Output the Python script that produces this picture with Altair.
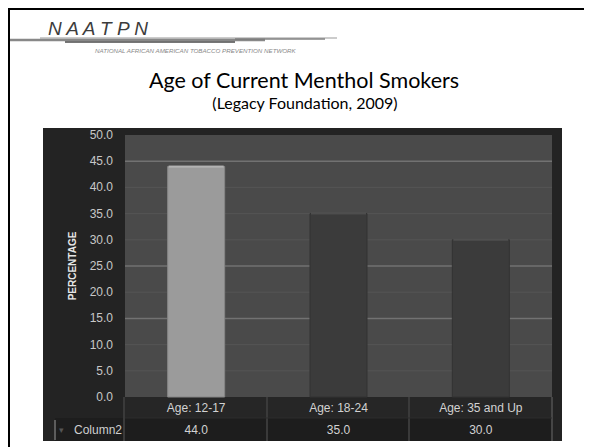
import altair as alt
import pandas as pd

# ---- data ----
categories = ["Age: 12-17", "Age: 18-24", "Age: 35 and Up"]
values = [44.0, 35.0, 30.0]
bar_colors = ["#9b9b9b", "#3b3b3b", "#3b3b3b"]
top_colors = ["#c8c8c8", "#5a5a5a", "#5a5a5a"]
edge_colors = ["#858585", "#333333", "#333333"]
y_ticks = [0, 5, 10, 15, 20, 25, 30, 35, 40, 45, 50]
y_tick_labels = ["0.0", "5.0", "10.0", "15.0", "20.0", "25.0", "30.0", "35.0",
                 "40.0", "45.0", "50.0"]
grid_bright = [15, 25, 45]
grid_faint = [5, 10, 20, 30, 35, 40]
value_labels = ["44.0", "35.0", "30.0"]

title_text = "Age of Current Menthol Smokers"
subtitle_text = "(Legacy Foundation, 2009)"
logo_text = "N A A T P N"
logo_sub = "NATIONAL AFRICAN AMERICAN TOBACCO PREVENTION NETWORK"
row_label = "Column2"
y_title = "PERCENTAGE"

W, H = 427, 262

bars_df = pd.DataFrame({"cat": categories, "v": values, "color": bar_colors,
                        "top": top_colors, "edge": edge_colors, "lab": value_labels})
ticks_df = pd.DataFrame({"t": y_ticks, "lab": y_tick_labels})
gb_df = pd.DataFrame({"g": grid_bright})
gf_df = pd.DataFrame({"g": grid_faint})
one = pd.DataFrame({"a": [0]})

xsc = alt.Scale(domain=categories, paddingInner=0, paddingOuter=0)
ysc = alt.Scale(domain=[0, 50], nice=False, zero=True)
XF = dict(scale=xsc, sort=categories, axis=None)
YF = dict(scale=ysc, axis=None)


def box(x, x2, y, y2, color):
    return alt.Chart(one).mark_rect(color=color).encode(
        x=alt.value(x), x2=alt.value(x2), y=alt.value(y), y2=alt.value(y2))


def rule(x, x2, y, y2, color, w, op=1.0):
    return alt.Chart(one).mark_rule(color=color, strokeWidth=w, opacity=op).encode(
        x=alt.value(x), x2=alt.value(x2), y=alt.value(y), y2=alt.value(y2))


def txt(t, x, y, size, color, font="Liberation Sans", align="center",
        baseline="alphabetic", weight="normal", style="normal", angle=0):
    return alt.Chart(one).mark_text(
        text=t, fontSize=size, color=color, font=font, align=align,
        baseline=baseline, fontWeight=weight, fontStyle=style, angle=angle
    ).encode(x=alt.value(x), y=alt.value(y))


# slide border
border_top = box(-117, 459, -127, -125, "#000000")
border_left = box(-117, -115, -127, 312, "#000000")

# dark panel & plot background
panel = box(-82, 437, -7, 306, "#232323")
plot_bg = box(0, W, 0, H, "#4a4a4a")
row1 = box(0, W, H, 283, "#262626")
row2 = box(-70, W, 283, 306, "#1d1d1d")

dividers = alt.layer(
    rule(-1, -1, H, 306, "#3a3a3a", 2),
    rule(142, 142, H, 306, "#3a3a3a", 2),
    rule(284, 284, H, 306, "#3a3a3a", 2),
    rule(427, 427, H, 306, "#464646", 2),
    rule(0, W, 283, 283, "#2c2c2c", 1),
    rule(-70, -70, 285, 305, "#5c5c5c", 2),
)

grid_f = alt.Chart(gf_df).mark_rule(color="#545454", strokeWidth=1).encode(
    y=alt.Y("g:Q", **YF), x=alt.value(0), x2=alt.value(W))
grid_b = alt.Chart(gb_df).mark_rule(color="#727272", strokeWidth=1.5).encode(
    y=alt.Y("g:Q", **YF), x=alt.value(0), x2=alt.value(W))

bars = alt.Chart(bars_df).mark_bar(size=57, strokeWidth=1).encode(
    x=alt.X("cat:N", **XF),
    y=alt.Y("v:Q", **YF),
    color=alt.Color("color:N", scale=None),
    stroke=alt.Stroke("edge:N", scale=None),
)

tops = alt.Chart(bars_df).mark_tick(size=55, thickness=2).encode(
    x=alt.X("cat:N", **XF),
    y=alt.Y("v:Q", **YF),
    color=alt.Color("top:N", scale=None),
)

# y tick labels (through the y scale)
y_labels = alt.Chart(ticks_df).mark_text(
    fontSize=12, font="Liberation Sans", color="#c8c8c8", align="right",
    baseline="middle"
).encode(y=alt.Y("t:Q", **YF), x=alt.value(-12), text="lab:N")

# category labels (through the x scale)
x_labels = alt.Chart(bars_df).mark_text(
    fontSize=12, font="Liberation Sans", color="#d2d2d2", baseline="middle"
).encode(x=alt.X("cat:N", **XF), y=alt.value(273), text="cat:N")

val_text = alt.Chart(bars_df).mark_text(
    fontSize=12, font="Liberation Sans", color="#d2d2d2", baseline="middle"
).encode(x=alt.X("cat:N", **XF), y=alt.value(295), text="lab:N")

# logo
logo = alt.layer(
    rule(-85, 212, -97, -97, "#9a9a9a", 1.2),
    rule(-115, 140, -95, -95, "#6a6a6a", 2.5, 0.8),
    rule(-60, 110, -93, -93, "#555555", 2, 0.8),
    rule(110, 200, -96, -96, "#7a7a7a", 2, 0.7),
    txt(logo_text, -77, -100, 19, "#3c3c3c", align="left", style="italic"),
    txt(logo_sub, -30, -82, 6.2, "#888888", align="left", style="italic"),
)

titles = alt.layer(
    txt(title_text, 179, -47, 21.5, "#000000", font="Lato"),
    txt(subtitle_text, 180, -26, 16, "#000000", font="Lato"),
)

left_text = alt.layer(
    txt(y_title, -52, 131, 10, "#e6e6e6", weight="bold", baseline="middle", angle=270),
    txt(row_label, -3, 295, 12, "#cfcfcf", align="right", baseline="middle"),
    txt("\u25be", -64, 295, 9, "#555555", baseline="middle"),
)

chart = alt.layer(
    border_top, border_left, panel, plot_bg, row1, row2,
    grid_f, grid_b, dividers, bars, tops, y_labels, x_labels, val_text,
    logo, titles, left_text
).properties(
    width=W, height=H,
    padding={"left": 117, "top": 127, "right": 32, "bottom": 50},
    autosize=alt.AutoSizeParams(type="none"),
    background="#ffffff",
).configure_view(stroke=None)

chart.save("out.html", embed_options={"renderer": "svg", "actions": False})
